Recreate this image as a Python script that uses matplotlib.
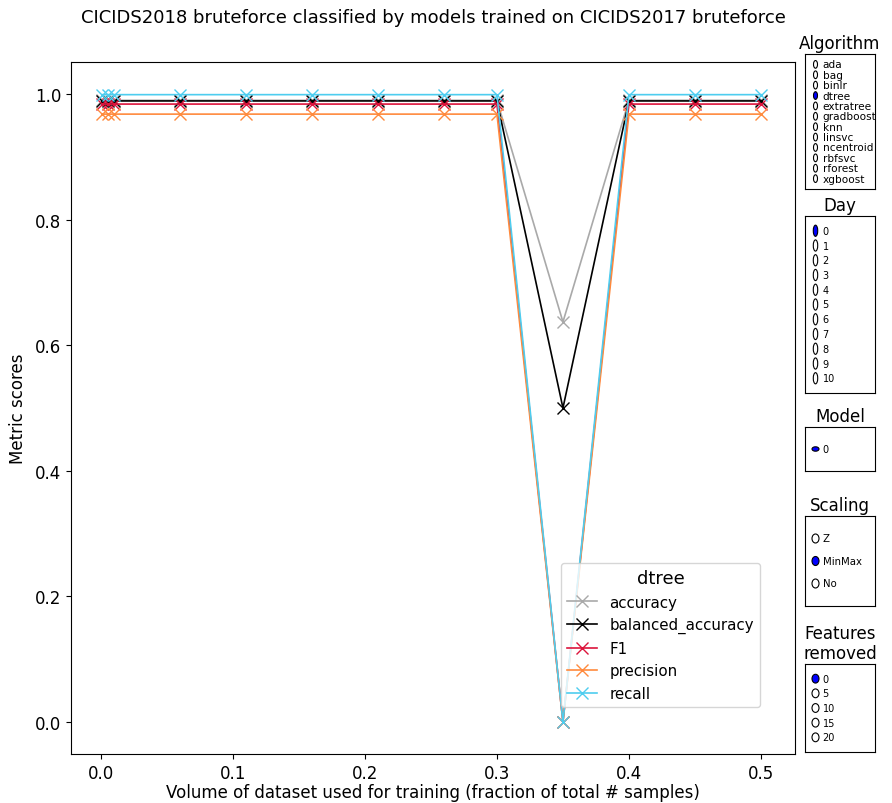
import numpy as np
import matplotlib
matplotlib.use("Agg")
import matplotlib.pyplot as plt
from matplotlib.patches import Ellipse

# Training volume fractions and metric scores for dtree
volumes = [0.001, 0.005, 0.01, 0.06, 0.11, 0.16, 0.21, 0.26, 0.30, 0.35, 0.40, 0.45, 0.50]
accuracy = [0.990] * 9 + [0.637] + [0.990] * 3
balanced_accuracy = [0.989] * 9 + [0.500] + [0.989] * 3
f1 = [0.984] * 9 + [0.0] + [0.984] * 3
precision = [0.968] * 9 + [0.0] + [0.968] * 3
recall = [0.999] * 9 + [0.0] + [0.999] * 3

metric_names = ["accuracy", "balanced_accuracy", "F1", "precision", "recall"]
metric_colors = ["darkgray", "black", "crimson", "#ff8a3d", "#4ecdef"]

algorithms = ["ada", "bag", "binlr", "dtree", "extratree", "gradboost", "knn",
              "linsvc", "ncentroid", "rbfsvc", "rforest", "xgboost"]
days = [str(i) for i in range(11)]
models = ["0"]
scalings = ["Z", "MinMax", "No"]
features_removed = ["0", "5", "10", "15", "20"]

W, H = 892, 804
fig = plt.figure(figsize=(W / 100, H / 100), dpi=100)


def px_axes(x0, y0, x1, y1):
    return fig.add_axes([x0 / W, 1 - y1 / H, (x1 - x0) / W, (y1 - y0) / H])


ax = px_axes(71, 63, 795, 755)
series = [accuracy, balanced_accuracy, f1, precision, recall]
for name, vals, col in zip(metric_names, series, metric_colors):
    ax.plot(volumes, vals, color=col, marker="x", markersize=8, linewidth=1.2, label=name)

ax.set_xlim(-0.0227, 0.5258)
ax.set_ylim(-0.051, 1.051)
ax.set_xticks([0.0, 0.1, 0.2, 0.3, 0.4, 0.5])
ax.set_yticks([0.0, 0.2, 0.4, 0.6, 0.8, 1.0])
ax.tick_params(labelsize=12)
ax.set_xlabel("Volume of dataset used for training (fraction of total # samples)",
              fontsize=12, labelpad=1)
ax.set_ylabel("Metric scores", fontsize=12, labelpad=6)
ax.set_title("CICIDS2018 bruteforce classified by models trained on CICIDS2017 bruteforce",
             fontsize=13, pad=29)
leg = ax.legend(title="dtree", loc="lower left", bbox_to_anchor=(0.677, 0.068),
                borderaxespad=0, fontsize=10.8, title_fontsize=13)


def radio(box, title, labels, active, fontsize=7.2):
    rax = px_axes(*box)
    rax.set_xticks([])
    rax.set_yticks([])
    rax.set_title(title, fontsize=12, pad=4)
    n = len(labels)
    dy = 1.0 / (n + 1)
    ys = np.linspace(1 - dy, dy, n)
    r = min(dy / 2 - 0.01, 0.05)
    for i, (y, lab) in enumerate(zip(ys, labels)):
        rax.text(0.25, y, lab, transform=rax.transAxes, ha="left", va="center",
                 fontsize=fontsize)
        fc = "blue" if i == active else "white"
        rax.add_patch(Ellipse((0.15, y), 2 * r, 2 * r, transform=rax.transAxes,
                              facecolor=fc, edgecolor="black", linewidth=0.8))
    return rax


radio((805, 55, 875, 190), "Algorithm", algorithms, 3, fontsize=7.6)
radio((805, 217, 875, 394), "Day", days, 0, fontsize=7)
radio((805, 428, 875, 472), "Model", models, 0, fontsize=7)
radio((805, 517, 875, 607), "Scaling", scalings, 1, fontsize=7.3)
radio((805, 665, 875, 753), "Features\nremoved", features_removed, 0, fontsize=7)

fig.savefig("out.png", dpi=100)
